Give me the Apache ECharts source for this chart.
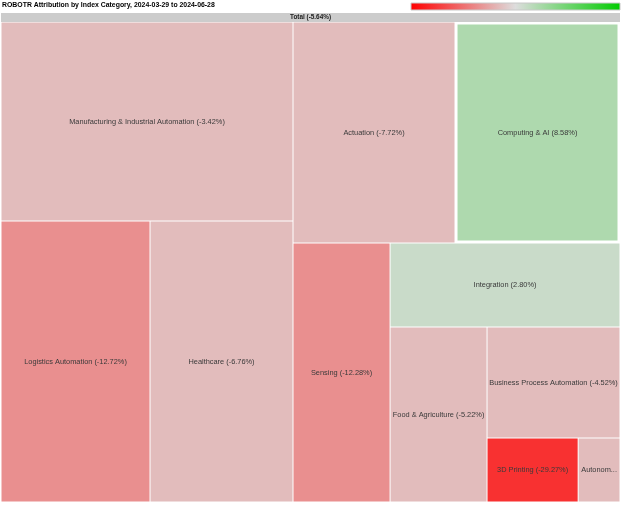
<!DOCTYPE html>
<html><head><meta charset="utf-8">
<script src="https://cdn.jsdelivr.net/npm/echarts@6/dist/echarts.min.js"></script>
<style>html,body{margin:0;padding:0;background:#fff}#c{width:624px;height:506px}</style>
</head><body><div id="c"></div>
<script>
const chartTitle = 'ROBOTR Attribution by Index Category, 2024-03-29 to 2024-06-28';
const totalName = 'Total';
const totalReturn = -5.64;
const categories = ['Manufacturing & Industrial Automation', 'Logistics Automation', 'Healthcare',
  'Actuation', 'Computing & AI', 'Sensing', 'Integration', 'Food & Agriculture',
  'Business Process Automation', '3D Printing', 'Autonomous Systems'];
const weights = [19.56, 14.09, 13.52, 12.05, 12.27, 8.46, 6.50, 5.71, 4.97, 1.96, 0.90];
const returns = [-3.42, -12.72, -6.76, -7.72, 8.58, -12.28, 2.80, -5.22, -4.52, -29.27, -4.80];
const highlighted = ['Computing & AI'];
// binary-style grouping of the tiles (indices into categories)
const tiling = [[0, 1, 2], [[3, 4], [5, [6, [7, [8, [9, 10]]]]]]];

const FONT = "'Liberation Sans', Arial, sans-serif";
const RED = [255, 0, 0], MID = [221, 221, 221], GREEN = [0, 204, 0];
function mix(a, b, t) { return 'rgb(' + a.map((v, i) => Math.round(v * (1 - t) + b[i] * t)).join(',') + ')'; }
function tileColor(v) {
  // quantized diverging scale
  let t;
  if (v < 0) { t = v <= -20 ? 0.78 : (v <= -10 ? 0.353 : 0.15); return mix(MID, RED, t); }
  t = v >= 5 ? 0.213 : 0.09; return mix(MID, GREEN, t);
}
function fmt(v) { return v.toFixed(2) + '%'; }

function build(node) {
  if (typeof node === 'number') {
    const name = categories[node];
    const hl = highlighted.includes(name);
    return {
      name: name, value: weights[node], ret: returns[node],
      itemStyle: { color: tileColor(returns[node]), borderColor: '#fff', borderWidth: hl ? 2.5 : 0.5, gapWidth: 0 }
    };
  }
  const children = node.map(build);
  return {
    name: '', value: children.reduce((s, c) => s + c.value, 0), children: children,
    itemStyle: { borderWidth: 0, gapWidth: 0, borderColor: '#fff' },
    upperLabel: { show: false }
  };
}
const groups = tiling.map(build);
const totalNode = {
  name: totalName, ret: totalReturn, value: groups.reduce((s, c) => s + c.value, 0),
  children: groups,
  itemStyle: { borderWidth: 0, gapWidth: 0, borderColor: '#cccccc' },
  upperLabel: {
    show: true, height: 9, position: 'inside', color: '#222', fontWeight: 'bold',
    fontSize: 6.4, fontFamily: FONT, formatter: p => p.name + ' (' + fmt(p.data.ret) + ')'
  }
};

const chart = echarts.init(document.getElementById('c'), null, { renderer: 'canvas' });
chart.setOption({
  animation: false,
  title: {
    text: chartTitle, left: 2, top: 1.5, padding: 0,
    textStyle: { fontSize: 6.9, fontWeight: 'bold', color: '#000', fontFamily: FONT }
  },
  graphic: [{
    type: 'rect', shape: { x: 411, y: 3, width: 209, height: 7 },
    style: {
      fill: new echarts.graphic.LinearGradient(0, 0, 1, 0, [
        { offset: 0, color: 'rgb(255,0,0)' }, { offset: 0.5, color: 'rgb(221,221,221)' }, { offset: 1, color: 'rgb(0,204,0)' }
      ]),
      stroke: '#c8c8c8', lineWidth: 1
    }
  }],
  series: [{
    type: 'treemap', left: 1, top: 13, width: 619, height: 489,
    squareRatio: 1, sort: false, roam: false, nodeClick: false,
    breadcrumb: { show: false }, visibleMin: 0,
    itemStyle: { borderWidth: 0, gapWidth: 0, borderColor: '#fff' },
    label: {
      show: true, position: 'inside', color: '#3a3a3a', fontSize: 7.4, fontFamily: FONT,
      overflow: 'truncate', ellipsis: '...', padding: 0,
      formatter: p => p.name + ' (' + fmt(p.data.ret) + ')'
    },
    upperLabel: { show: false },
    data: [totalNode]
  }]
});
</script></body></html>
